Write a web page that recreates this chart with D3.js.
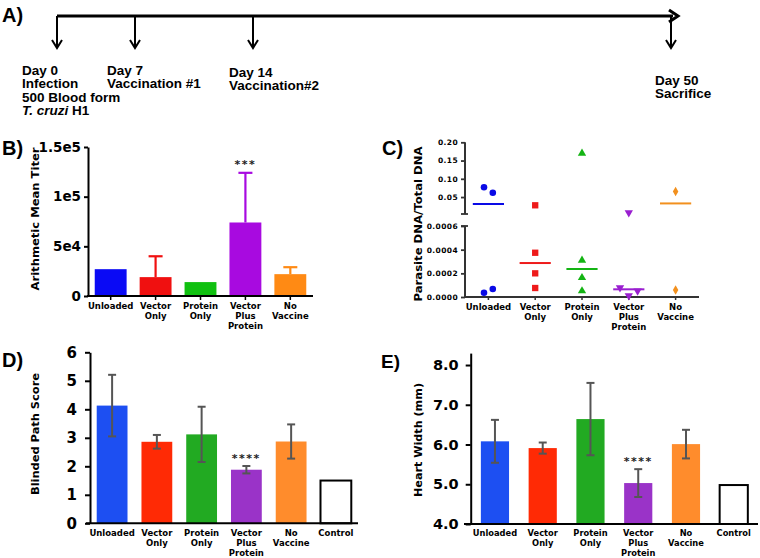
<!DOCTYPE html>
<html><head><meta charset="utf-8">
<script src="https://cdn.jsdelivr.net/npm/d3@7/dist/d3.min.js"></script>
<style>body{margin:0;background:#fff}svg{display:block}</style>
</head><body><svg id="c" width="760" height="558"></svg>
<script>
// ---------------- DATA ----------------
const timelineDays = [0, 7, 14, 50];
const timelineLabels = [
  ["Day 0", "Infection", "500 Blood form", "T. cruzi|H1"],
  ["Day 7", "Vaccination #1"],
  ["Day 14", "Vaccination#2"],
  ["Day 50", "Sacrifice"]
];

const groups = ["Unloaded", "Vector Only", "Protein Only", "Vector Plus Protein", "No Vaccine"];
const groupsCtl = ["Unloaded", "Vector Only", "Protein Only", "Vector Plus Protein", "No Vaccine", "Control"];

const titerMean  = [27000, 19000, 14000, 74000, 22000];
const titerUpper = [27000, 40000, 14000, 124000, 29000];
const titerTicks = [0, 50000, 100000, 150000];
const titerTickLabels = ["0", "5e4", "1e5", "1.5e5"];
const titerStars = ["", "", "", "***", ""];

const dnaUnloaded = [0.077, 0.062, 0.000036, 0.000068];
const dnaVector   = [0.0274, 0.000374, 0.0002, 0.000076];
const dnaProtein  = [0.17, 0.00031, 0.000163, 0.000051];
const dnaVPP      = [0.0071, 0.000079, 0.000011, 0.000051];
const dnaNoVacc   = [0.065, 0.000059];
const dnaUpperTicks = [0.05, 0.10, 0.15, 0.20];
const dnaLowerTicks = [0, 0.0002, 0.0004, 0.0006];

const pathMean = [4.13, 2.86, 3.12, 1.88, 2.87, 1.5];
const pathErr  = [1.08, 0.24, 0.97, 0.13, 0.60, 0];
const pathStars = ["", "", "", "****", "", ""];
const pathTicks = [0, 1, 2, 3, 4, 5, 6];

const heartMean = [6.08, 5.91, 6.64, 5.03, 6.01, 4.98];
const heartErr  = [0.54, 0.14, 0.91, 0.35, 0.36, 0];
const heartStars = ["", "", "", "****", "", ""];
const heartTicks = [4, 5, 6, 7, 8];

// ---------------- STYLE ----------------
const colB = ["#0a0af5", "#f01010", "#10c010", "#a80ae0", "#ff8a14"];
const colC = ["#0a0ae6", "#ee1a1a", "#14b414", "#9a1fd0", "#f2901e"];
const colDE = ["#1d4ff2", "#ff2a05", "#22aa22", "#9a33c8", "#ff8c2c", "#ffffff"];
const F = "'DejaVu Sans', sans-serif";
const FA = "'Liberation Sans', Arial, sans-serif";

const svg = d3.select("#c");

function panelLabel(t, x, y, size) {
  svg.append("text").attr("x", x).attr("y", y).text(t)
    .attr("font-family", "'Liberation Sans', Arial, sans-serif").attr("font-weight", "bold")
    .attr("font-size", size || 20).attr("fill", "#000");
}
function catLabels(g, cats, xf, y0, size) {
  cats.forEach((c, i) => {
    const t = g.append("text").attr("x", xf(i)).attr("y", y0).attr("text-anchor", "middle")
      .attr("font-family", F).attr("font-weight", "bold").attr("font-size", size).attr("fill", "#000");
    c.split(" ").forEach((w, k) => t.append("tspan").attr("x", xf(i)).attr("dy", k === 0 ? "0.35em" : 10).text(w));
  });
}
function yTitle(t, x, y, size, len) {
  const tx = svg.append("text").attr("transform", `translate(${x},${y}) rotate(-90)`)
    .attr("text-anchor", "middle").attr("dy", "0.35em")
    .attr("font-family", F).attr("font-weight", "bold").attr("font-size", size).attr("fill", "#000").text(t);
  if (len) tx.attr("textLength", len).attr("lengthAdjust", "spacingAndGlyphs");
}
function styleAxis(g, fs, w, col) {
  g.select(".domain").attr("stroke", col || "#000").attr("stroke-width", w);
  g.selectAll(".tick line").attr("stroke", col || "#000").attr("stroke-width", w);
  g.selectAll(".tick text").attr("font-family", F).attr("font-weight", "bold").attr("font-size", fs).attr("fill", "#000");
}

// ---------------- PANEL A ----------------
panelLabel("A)", 2, 22, 20);
const xT = d3.scaleLinear().domain(timelineDays).range([57, 135, 253, 671]);
const lineY = 16, arrowEnd = 48;
svg.append("line").attr("x1", xT(0)).attr("x2", xT(50) + 2).attr("y1", lineY).attr("y2", lineY)
  .attr("stroke", "#000").attr("stroke-width", 3);
svg.append("path").attr("d", `M${xT(50) - 2},${lineY - 6} L${xT(50) + 7},${lineY} L${xT(50) - 2},${lineY + 6}`)
  .attr("fill", "none").attr("stroke", "#000").attr("stroke-width", 3);
const labelDx = [-35, -28, -24, -16];
const labelY = [70, 70, 72, 80];
timelineDays.forEach((d, i) => {
  const x = xT(d);
  svg.append("line").attr("x1", x).attr("x2", x).attr("y1", lineY).attr("y2", arrowEnd - 1)
    .attr("stroke", "#000").attr("stroke-width", 2);
  svg.append("path").attr("d", `M${x - 5},${arrowEnd - 8} L${x},${arrowEnd} L${x + 5},${arrowEnd - 8}`)
    .attr("fill", "none").attr("stroke", "#000").attr("stroke-width", 2);
  timelineLabels[i].forEach((s, k) => {
    const t = svg.append("text").attr("x", x + labelDx[i]).attr("y", labelY[i] + k * 13.5).attr("dy", "0.35em")
      .attr("font-family", FA).attr("font-weight", "bold").attr("font-size", 13.5).attr("fill", "#000");
    if (s.includes("|")) {
      const [a, b] = s.split("|");
      t.append("tspan").attr("font-style", "italic").text(a + " ");
      t.append("tspan").text(b);
    } else t.text(s);
  });
});

// ---------------- PANEL B ----------------
panelLabel("B)", 2, 155, 20);
{
  const g = svg.append("g");
  const x = d3.scaleBand().domain(groups).range([88, 313]).paddingInner(0.29).paddingOuter(0.15);
  const y = d3.scaleLinear().domain([0, 150000]).range([296, 147]);
  g.selectAll("rect.bar").data(groups).join("rect").attr("class", "bar")
    .attr("x", d => x(d)).attr("width", x.bandwidth())
    .attr("y", (d, i) => y(titerMean[i])).attr("height", (d, i) => y(0) - y(titerMean[i]))
    .attr("fill", (d, i) => colB[i]);
  groups.forEach((d, i) => {
    const cx = x(d) + x.bandwidth() / 2;
    if (titerUpper[i] > titerMean[i]) {
      g.append("line").attr("x1", cx).attr("x2", cx).attr("y1", y(titerMean[i])).attr("y2", y(titerUpper[i]))
        .attr("stroke", colB[i]).attr("stroke-width", 2.2);
      g.append("line").attr("x1", cx - 7).attr("x2", cx + 7).attr("y1", y(titerUpper[i])).attr("y2", y(titerUpper[i]))
        .attr("stroke", colB[i]).attr("stroke-width", 2.2);
    }
    if (titerStars[i]) g.append("text").attr("x", cx).attr("y", y(titerUpper[i]) - 5).attr("text-anchor", "middle")
      .attr("font-family", F).attr("font-weight", "bold").attr("font-size", 11).attr("letter-spacing", 1.5)
      .attr("fill", "#222").text(titerStars[i]);
  });
  const ax = g.append("g").attr("transform", "translate(88,0)")
    .call(d3.axisLeft(y).tickValues(titerTicks).tickFormat((d, i) => titerTickLabels[i]).tickSize(4).tickSizeOuter(0).tickPadding(3));
  styleAxis(ax, 13.5, 2);
  g.append("line").attr("x1", 87).attr("x2", 313).attr("y1", 296).attr("y2", 296).attr("stroke", "#000").attr("stroke-width", 2);
  groups.forEach(d => {
    const cx = x(d) + x.bandwidth() / 2;
    g.append("line").attr("x1", cx).attr("x2", cx).attr("y1", 296).attr("y2", 300).attr("stroke", "#000").attr("stroke-width", 1.5);
  });
  catLabels(g, groups, i => x(groups[i]) + x.bandwidth() / 2, 306, 8.5);
  yTitle("Arithmetic Mean Titer", 35, 219, 11, 143);
}

// ---------------- PANEL C ----------------
panelLabel("C)", 382, 155, 20);
{
  const g = svg.append("g");
  const dna = [dnaUnloaded, dnaVector, dnaProtein, dnaVPP, dnaNoVacc];
  const syms = [d3.symbolCircle, d3.symbolSquare, d3.symbolTriangle, d3.symbolTriangle, d3.symbolDiamond];
  const symSize = [34, 40, 30, 30, 26];
  const x = d3.scaleBand().domain(groups).range([465, 699]);
  const cx = i => x(groups[i]) + x.bandwidth() / 2;
  const yU = d3.scaleLinear().domain([0, 0.2]).range([215.3, 142.3]);
  const yL = d3.scaleLinear().domain([0, 0.0006]).range([297, 226]);
  const yy = v => v > 0.001 ? yU(v) : yL(v);
  const axU = g.append("g").attr("transform", "translate(465,0)")
    .call(d3.axisLeft(yU).tickValues(dnaUpperTicks).tickFormat(d3.format(".2f")).tickSize(4).tickSizeOuter(0).tickPadding(3));
  axU.select(".domain").remove();
  styleAxis(axU, 7.5, 1.8, "#333");
  g.append("line").attr("x1", 465).attr("x2", 465).attr("y1", 142.3).attr("y2", 214).attr("stroke", "#333").attr("stroke-width", 2);
  g.append("line").attr("x1", 461).attr("x2", 468).attr("y1", 214).attr("y2", 214).attr("stroke", "#333").attr("stroke-width", 1.8);
  const axL = g.append("g").attr("transform", "translate(465,0)")
    .call(d3.axisLeft(yL).tickValues(dnaLowerTicks).tickFormat(d3.format(".4f")).tickSize(4).tickSizeOuter(0).tickPadding(3));
  axL.select(".domain").remove();
  styleAxis(axL, 7.5, 1.8, "#333");
  g.append("line").attr("x1", 465).attr("x2", 465).attr("y1", 226).attr("y2", 297).attr("stroke", "#333").attr("stroke-width", 2);
  g.append("line").attr("x1", 461).attr("x2", 468).attr("y1", 226).attr("y2", 226).attr("stroke", "#333").attr("stroke-width", 1.8);
  g.selectAll(".tick text").attr("letter-spacing", 0.4);
  g.append("line").attr("x1", 464).attr("x2", 699).attr("y1", 297).attr("y2", 297).attr("stroke", "#333").attr("stroke-width", 2);
  groups.forEach((d, i) => g.append("line").attr("x1", cx(i)).attr("x2", cx(i)).attr("y1", 297).attr("y2", 300).attr("stroke", "#333").attr("stroke-width", 1.5));
  dna.forEach((arr, i) => {
    const m = d3.median(arr);
    g.append("line").attr("x1", cx(i) - 15.6).attr("x2", cx(i) + 15.6).attr("y1", yy(m)).attr("y2", yy(m))
      .attr("stroke", colC[i]).attr("stroke-width", 2);
  });
  dna.forEach((arr, i) => {
    const ys = arr.map(yy);
    const clusters = [];
    ys.forEach((v, k) => {
      const c = clusters.find(cl => Math.abs(ys[cl[0]] - v) < 9);
      if (c) c.push(k); else clusters.push([k]);
    });
    clusters.forEach(cl => cl.forEach((k, j) => {
      const px = cx(i) + (j - (cl.length - 1) / 2) * 8.8;
      const rot = (i === 3) ? 180 : 0;
      g.append("path").attr("d", d3.symbol().type(syms[i]).size(symSize[i])())
        .attr("transform", `translate(${px},${ys[k]}) rotate(${rot})`).attr("fill", colC[i]);
    }));
  });
  catLabels(g, groups, cx, 307, 8.5);
  yTitle("Parasite DNA/Total DNA", 418, 224, 11, 155);
}

// ---------------- PANEL D ----------------
panelLabel("D)", 2, 367, 20);
{
  const g = svg.append("g");
  const x = d3.scaleBand().domain(groupsCtl).range([90, 358]).paddingInner(0.312).paddingOuter(0.15);
  const y = d3.scaleLinear().domain([0, 6]).range([523.3, 352.3]);
  const cx = i => x(groupsCtl[i]) + x.bandwidth() / 2;
  g.selectAll("rect.bar").data(groupsCtl).join("rect").attr("class", "bar")
    .attr("x", d => x(d)).attr("width", x.bandwidth())
    .attr("y", (d, i) => y(pathMean[i])).attr("height", (d, i) => y(0) - y(pathMean[i]))
    .attr("fill", (d, i) => colDE[i]).attr("stroke", (d, i) => i === 5 ? "#000" : "none").attr("stroke-width", 2);
  groupsCtl.forEach((d, i) => {
    if (pathErr[i] > 0) {
      const hi = y(pathMean[i] + pathErr[i]), lo = y(pathMean[i] - pathErr[i]);
      g.append("line").attr("x1", cx(i)).attr("x2", cx(i)).attr("y1", lo).attr("y2", hi).attr("stroke", "#555").attr("stroke-width", 2);
      [hi, lo].forEach(v => g.append("line").attr("x1", cx(i) - 4).attr("x2", cx(i) + 4).attr("y1", v).attr("y2", v).attr("stroke", "#555").attr("stroke-width", 2));
    }
    if (pathStars[i]) g.append("text").attr("x", cx(i)).attr("y", y(pathMean[i] + pathErr[i]) - 4).attr("text-anchor", "middle")
      .attr("font-family", F).attr("font-weight", "bold").attr("font-size", 11).attr("letter-spacing", 1.5)
      .attr("fill", "#222").text(pathStars[i]);
  });
  const ax = g.append("g").attr("transform", "translate(90,0)")
    .call(d3.axisLeft(y).tickValues(pathTicks).tickFormat(d3.format("d")).tickSize(5).tickSizeOuter(0).tickPadding(8));
  styleAxis(ax, 15, 2);
  g.append("line").attr("x1", 86).attr("x2", 358).attr("y1", 523.3).attr("y2", 523.3).attr("stroke", "#000").attr("stroke-width", 2);
  catLabels(g, groupsCtl, cx, 533, 8.5);
  yTitle("Blinded Path Score", 35, 434, 11, 122);
}

// ---------------- PANEL E ----------------
panelLabel("E)", 381, 368, 19);
{
  const g = svg.append("g");
  const x = d3.scaleBand().domain(groupsCtl).range([470.7, 758]).paddingInner(0.41).paddingOuter(0.213);
  const y = d3.scaleLinear().domain([4, 8.3]).range([524, 353.1]);
  const cx = i => x(groupsCtl[i]) + x.bandwidth() / 2;
  g.selectAll("rect.bar").data(groupsCtl).join("rect").attr("class", "bar")
    .attr("x", d => x(d)).attr("width", x.bandwidth())
    .attr("y", (d, i) => y(heartMean[i])).attr("height", (d, i) => y(4) - y(heartMean[i]))
    .attr("fill", (d, i) => colDE[i]).attr("stroke", (d, i) => i === 5 ? "#000" : "none").attr("stroke-width", 2);
  groupsCtl.forEach((d, i) => {
    if (heartErr[i] > 0) {
      const hi = y(heartMean[i] + heartErr[i]), lo = y(heartMean[i] - heartErr[i]);
      g.append("line").attr("x1", cx(i)).attr("x2", cx(i)).attr("y1", lo).attr("y2", hi).attr("stroke", "#555").attr("stroke-width", 2);
      [hi, lo].forEach(v => g.append("line").attr("x1", cx(i) - 4).attr("x2", cx(i) + 4).attr("y1", v).attr("y2", v).attr("stroke", "#555").attr("stroke-width", 2));
    }
    if (heartStars[i]) g.append("text").attr("x", cx(i)).attr("y", y(heartMean[i] + heartErr[i]) - 4).attr("text-anchor", "middle")
      .attr("font-family", F).attr("font-weight", "bold").attr("font-size", 11).attr("letter-spacing", 1.5)
      .attr("fill", "#222").text(heartStars[i]);
  });
  const ax = g.append("g").attr("transform", "translate(470.7,0)")
    .call(d3.axisLeft(y).tickValues(heartTicks).tickFormat(d3.format(".1f")).tickSize(5).tickSizeOuter(0).tickPadding(7));
  styleAxis(ax, 14.5, 2);
  g.append("line").attr("x1", 464).attr("x2", 758).attr("y1", 524).attr("y2", 524).attr("stroke", "#000").attr("stroke-width", 2);
  catLabels(g, groupsCtl, cx, 533.5, 8.3);
  yTitle("Heart Width (mm)", 418, 440, 11, 114);
}
</script></body></html>
